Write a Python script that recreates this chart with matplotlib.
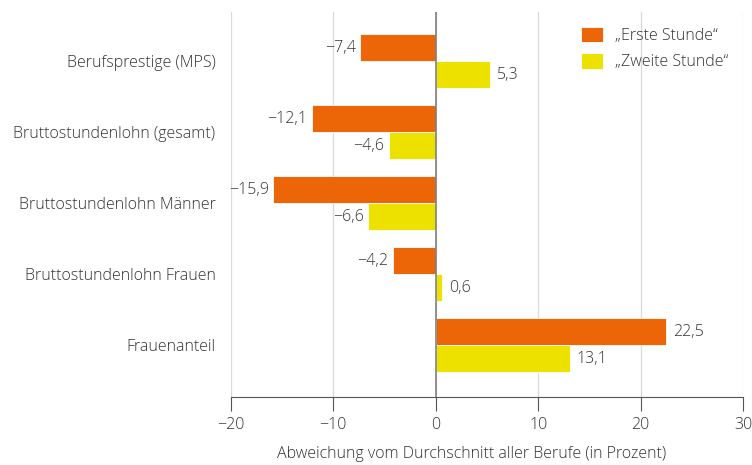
import numpy as np
import matplotlib.pyplot as plt

# Daten
kategorien = ['Berufsprestige (MPS)', 'Bruttostundenlohn (gesamt)',
              'Bruttostundenlohn Männer', 'Bruttostundenlohn Frauen',
              'Frauenanteil']
erste = [-7.4, -12.1, -15.9, -4.2, 22.5]
zweite = [5.3, -4.6, -6.6, 0.6, 13.1]
serien = ['„Erste Stunde“', '„Zweite Stunde“']

plt.rcParams['font.family'] = ['Open Sans', 'DejaVu Sans']
plt.rcParams['font.weight'] = 'light'
plt.rcParams['axes.labelweight'] = 'light'
txt = '#333333'
fs = 11.5

fig = plt.figure(figsize=(7.52, 4.65), dpi=100)
ax = fig.add_axes([0.307, 0.146, 0.681, 0.828])

y = np.arange(len(kategorien))
h = 0.38
b1 = ax.barh(y - h / 2, erste, height=h, color='#EC6608', edgecolor='white',
             linewidth=0.6, label=serien[0], zorder=3)
b2 = ax.barh(y + h / 2, zweite, height=h, color='#EDE100', edgecolor='white',
             linewidth=0.6, label=serien[1], zorder=3)

def fmt(v):
    s = f'{v:.1f}'.replace('.', ',')
    return s.replace('-', '\u2212')

for bars, vals in ((b1, erste), (b2, zweite)):
    for bar, v in zip(bars, vals):
        yc = bar.get_y() + bar.get_height() / 2
        if v < 0:
            ax.annotate(fmt(v), (v, yc), xytext=(-3, 0), textcoords='offset points',
                        ha='right', va='center', fontsize=fs, color=txt)
        else:
            ax.annotate(fmt(v), (v, yc), xytext=(5, 0), textcoords='offset points',
                        ha='left', va='center', fontsize=fs, color=txt)

ax.set_xlim(-20, 30)
ax.set_ylim(4.73, -0.69)
ticks = [-20, -10, 0, 10, 20, 30]
ax.set_xticks(ticks)
ax.set_xticklabels([str(t).replace('-', '\u2212') for t in ticks])
ax.set_yticks(y)
ax.set_yticklabels(kategorien)

ax.grid(axis='x', color='#d9d9d9', linewidth=0.9, zorder=0)
ax.axvline(0, color='#808080', linewidth=1.2, zorder=4)
for s in ['top', 'right', 'left']:
    ax.spines[s].set_visible(False)
ax.spines['bottom'].set_color('#555555')
ax.tick_params(axis='x', length=10, color='#555555', labelsize=fs,
               labelcolor=txt, pad=4)
ax.tick_params(axis='y', length=0, labelsize=fs, labelcolor=txt, pad=11)
ax.set_xlabel('Abweichung vom Durchschnitt aller Berufe (in Prozent)',
              fontsize=fs, color=txt, labelpad=9)
ax.xaxis.set_label_coords(0.47, -0.128)

leg = ax.legend(loc='upper right', bbox_to_anchor=(1.005, 1.008), frameon=False,
                fontsize=fs, handlelength=1.35, handleheight=1.1,
                labelspacing=0.6, borderpad=0.6, handletextpad=0.75)
for t in leg.get_texts():
    t.set_color(txt)

plt.savefig('out.png', dpi=100)
